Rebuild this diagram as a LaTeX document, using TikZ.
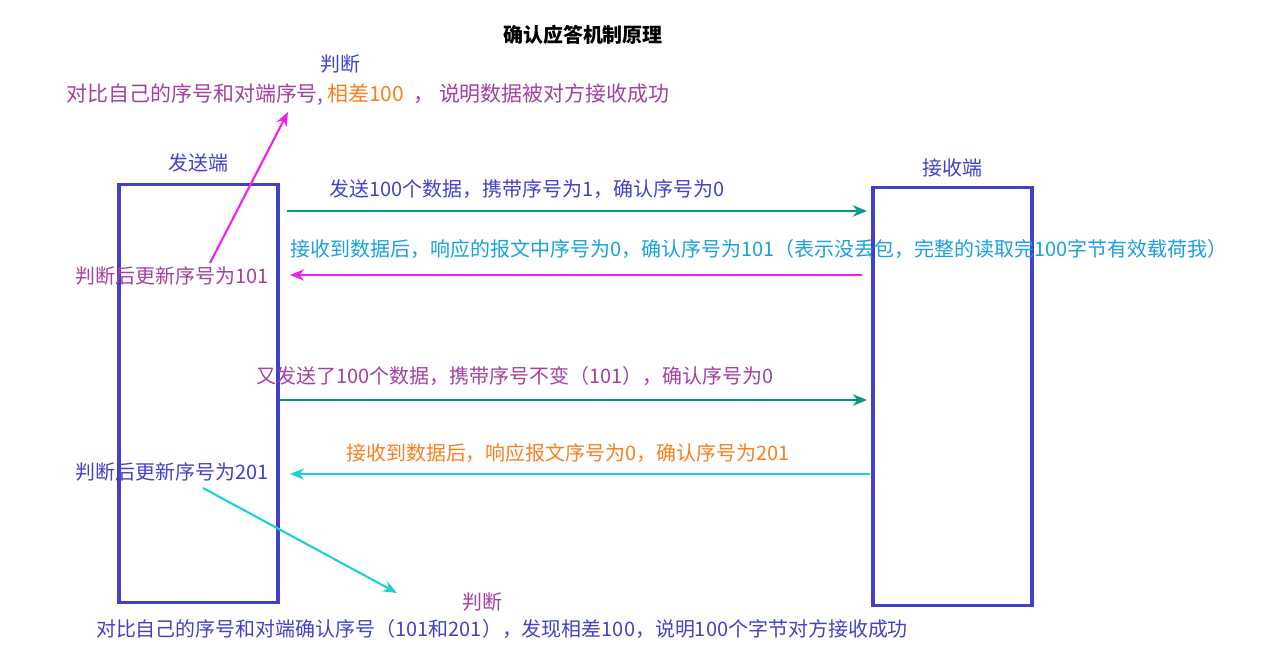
\documentclass[tikz,border=0pt]{standalone}
\usepackage{fontspec}
\setmainfont{Noto Sans CJK SC}
\usepackage{tikz}
\usetikzlibrary{arrows.meta, positioning}

\definecolor{boxblue}{RGB}{64,64,204}
\definecolor{txtblue}{RGB}{66,66,200}
\definecolor{txtpurple}{RGB}{164,64,160}
\definecolor{txtorange}{RGB}{245,128,32}
\definecolor{txtcyan}{RGB}{24,160,226}
\definecolor{arrteal}{RGB}{0,150,136}
\definecolor{arrmagenta}{RGB}{238,34,238}
\definecolor{arrcyan}{RGB}{32,208,208}

\tikzset{
  endbox/.style = {
    rectangle, draw=boxblue, line width=2.2pt,
    minimum width=3.975cm, minimum height=10.425cm
  },
  lbl/.style = {
    inner sep=1pt, font=\fontsize{14.2}{17}\selectfont
  },
  sendarrow/.style = {-{Stealth[length=10pt, width=8pt]}, line width=1.8pt, draw=arrteal},
  ackarrow/.style  = {-{Stealth[length=10pt, width=8pt]}, line width=1.8pt},
  thinarrow/.style = {-{Stealth[length=10pt, width=8pt]}, line width=1.5pt}
}

\begin{document}
\begin{tikzpicture}[x=0.025cm, y=-0.025cm]
\useasboundingbox (0,0) rectangle (1275,669);

% ----- NODES (two ends) -----
\node[endbox] (sender)   at (198.5,393.5) {};
\node[endbox] (receiver) at (952.5,396.5) {};
\node[lbl, text=txtblue, above=0.25cm of sender]  (sendname) {发送端};
\node[lbl, text=txtblue, above=0.2cm of receiver] (recvname) {接收端};

% ----- TEXTS -----
\node[lbl, font=\fontsize{14.2}{17}\selectfont\bfseries] (title) at (583,35) {确认应答机制原理};
\node[lbl, text=txtblue]   (judge1) at (340,64) {判断};
\node[lbl, text=txtpurple, font=\fontsize{14.9}{18}\selectfont] (cmp1) at (368,95)
  {对比自己的序号和对端序号,\,{\color{txtorange}相差100}\ \ ，\ 说明数据被对方接收成功};
\node[lbl, text=txtblue]   (msg1)   at (527,189) {发送100个数据，携带序号为1，确认序号为0};
\node[lbl, text=txtcyan]   (msg2)   at (759,249)
  {接收到数据后，响应的报文中序号为0，确认序号为101（表示没丢包，完整的读取完100字节有效载荷我）};
\node[lbl, text=txtpurple] (upd1)   at (172,276) {判断后更新序号为101};
\node[lbl, text=txtpurple] (msg3)   at (515,376) {又发送了100个数据，携带序号不变（101），确认序号为0};
\node[lbl, text=txtorange] (msg4)   at (568,453) {接收到数据后，响应报文序号为0，确认序号为201};
\node[lbl, text=txtblue]   (upd2)   at (172,472) {判断后更新序号为201};
\node[lbl, text=txtpurple] (judge2) at (482,602) {判断};
\node[lbl, text=txtblue]   (cmp2)   at (502,629)
  {对比自己的序号和对端确认序号（101和201），发现相差100，说明100个字节对方接收成功};

% ----- ARROW ENDS -----
\coordinate (s1) at (287,211);  \coordinate (r1) at (867,211);
\coordinate (r2) at (862,275);  \coordinate (s2) at (290,275);
\coordinate (s3) at (280,400);  \coordinate (r3) at (867,400);
\coordinate (r4) at (870,474);  \coordinate (s4) at (290,474);
\coordinate (d1a) at (210,263); \coordinate (d1b) at (288,112);
\coordinate (d2a) at (203,488); \coordinate (d2b) at (397,593);

% ----- ARROWS -----
\draw[sendarrow] (s1) -- (r1);
\draw[ackarrow, draw=arrmagenta] (r2) -- (s2);
\draw[sendarrow] (s3) -- (r3);
\draw[ackarrow, draw=arrcyan] (r4) -- (s4);

% judge after update
\draw[thinarrow, draw=arrmagenta] (d1a) -- (d1b);
\draw[thinarrow, draw=arrcyan] (d2a) -- (d2b);

\end{tikzpicture}
\end{document}
